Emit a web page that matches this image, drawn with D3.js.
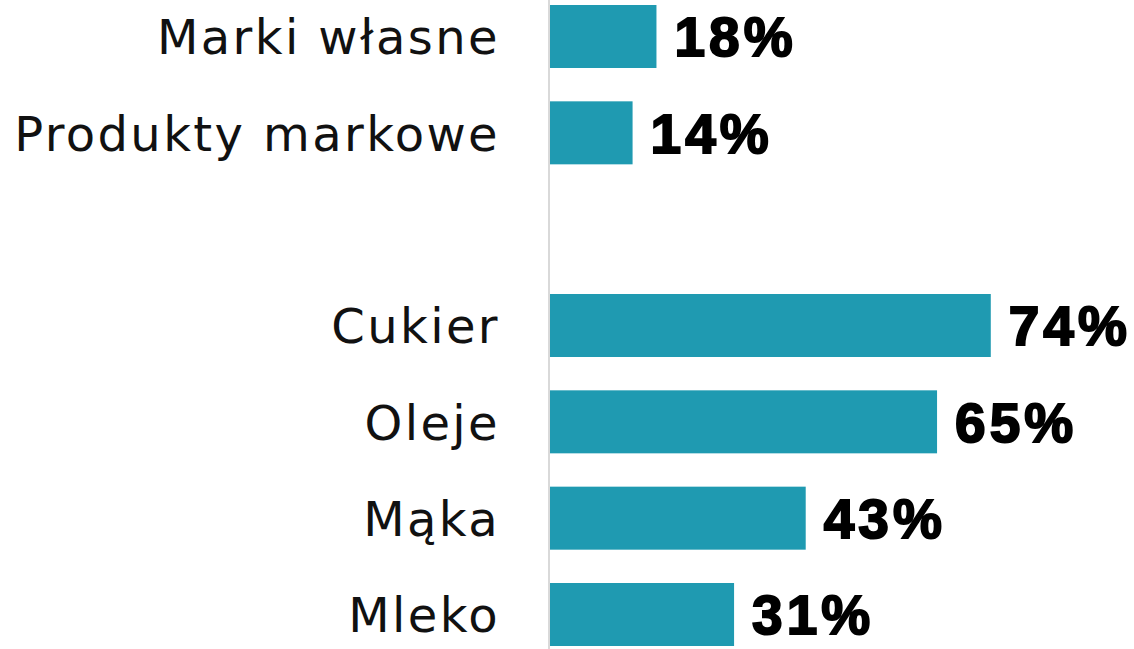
<!DOCTYPE html>
<html>
<head>
<meta charset="utf-8">
<script src="https://cdn.jsdelivr.net/npm/d3@7"></script>
<style>
  body { margin: 0; background: #fff; }
</style>
</head>
<body>
<div id="chart"></div>
<script>
// Chart data (empty category = gap row)
const categories = ["Marki własne", "Produkty markowe", "", "Cukier", "Oleje", "Mąka", "Mleko"];
const values = [18, 14, null, 74, 65, 43, 31];

const FRAME_WIDTH = 1134;
const FRAME_HEIGHT = 649;
const AXIS_X = 549;

const svg = d3.select("#chart")
  .append("svg")
    .attr("width", FRAME_WIDTH)
    .attr("height", FRAME_HEIGHT);

// scales
const y = d3.scaleBand()
  .domain(categories.map((d, i) => i))
  .range([5, 646])
  .paddingInner(0.346)
  .paddingOuter(0);

const x = d3.scaleLinear()
  .domain([0, 100])
  .range([AXIS_X, AXIS_X + 597]);

const rows = categories.map((c, i) => ({ i: i, label: c, value: values[i] }));
const filled = rows.filter(d => d.value !== null);

// bars
svg.selectAll("rect.bar")
  .data(filled)
  .enter()
  .append("rect")
    .attr("class", "bar")
    .attr("x", x(0))
    .attr("y", d => y(d.i))
    .attr("width", d => x(d.value) - x(0))
    .attr("height", y.bandwidth())
    .attr("fill", "#1f9ab1");

// vertical axis line
svg.append("line")
  .attr("x1", AXIS_X).attr("x2", AXIS_X)
  .attr("y1", 0).attr("y2", FRAME_HEIGHT)
  .attr("stroke", "#d9d9d9")
  .attr("stroke-width", 2);

// category labels
svg.selectAll("text.cat")
  .data(filled)
  .enter()
  .append("text")
    .attr("class", "cat")
    .attr("x", 500)
    .attr("y", d => y(d.i) + y.bandwidth() / 2)
    .attr("dy", "0.37em")
    .attr("text-anchor", "end")
    .attr("font-family", "DejaVu Sans")
    .attr("font-size", "48px")
    .attr("letter-spacing", "2.4px")
    .attr("fill", "#111")
    .text(d => d.label);

// value labels
svg.selectAll("text.val")
  .data(filled)
  .enter()
  .append("text")
    .attr("class", "val")
    .attr("x", d => x(d.value) + 18)
    .attr("y", d => y(d.i) + y.bandwidth() / 2)
    .attr("dy", "0.36em")
    .attr("font-family", "Liberation Sans")
    .attr("font-weight", "bold")
    .attr("font-size", "55px")
    .attr("letter-spacing", "4px")
    .attr("fill", "#000")
    .attr("stroke", "#000")
    .attr("stroke-width", 2)
    .text(d => d.value + "%");
</script>
</body>
</html>
